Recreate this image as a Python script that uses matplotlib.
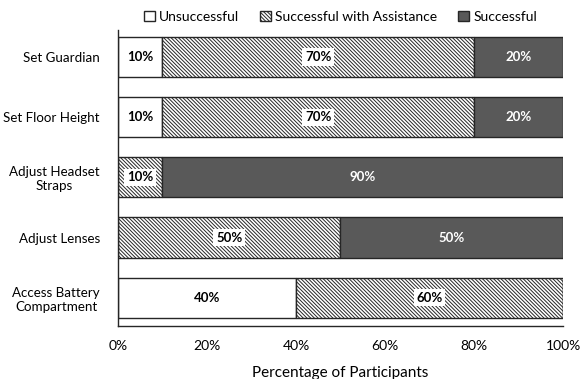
import numpy as np
import matplotlib
matplotlib.use("Agg")
import matplotlib.pyplot as plt
from matplotlib.ticker import FuncFormatter

plt.rcParams['font.family'] = ['Lato', 'DejaVu Sans']
plt.rcParams['hatch.color'] = '#9a9a9a'
plt.rcParams['hatch.linewidth'] = 0.7

tasks = ['Set Guardian', 'Set Floor Height', 'Adjust Headset\nStraps', 'Adjust Lenses',
         'Access Battery\nCompartment']
unsuccessful = [10, 10, 0, 0, 40]
assisted = [70, 70, 10, 50, 60]
successful = [20, 20, 90, 50, 0]

fig = plt.figure(figsize=(5.81, 3.79), dpi=100)
ax = fig.add_axes([0.203, 0.14, 0.766, 0.781])

y = np.arange(len(tasks))
h = 0.667
left = np.zeros(len(tasks))
series = [
    ('Unsuccessful', unsuccessful, dict(color='white', hatch=None), 'black'),
    ('Successful with Assistance', assisted, dict(color='white', hatch='\\' * 9), 'black'),
    ('Successful', successful, dict(color='#595959', hatch=None), 'white'),
]
for name, vals, style, tcol in series:
    vals = np.array(vals, dtype=float)
    ax.barh(y, vals, left=left, height=h, edgecolor='#262626', linewidth=1.0,
            label=name, **style)
    for yi, v, l in zip(y, vals, left):
        if v <= 0:
            continue
        bbox = None
        if style['hatch']:
            bbox = dict(boxstyle='square,pad=0.2', fc='white', ec='none')
        ax.text(l + v / 2, yi, '%d%%' % v, ha='center', va='center', fontsize=9.5,
                fontweight='bold', color=tcol, bbox=bbox)
    left += vals

ax.set_ylim(len(tasks) - 0.53, -0.45)
ax.set_xlim(0, 100)
ax.set_yticks(y)
ax.set_yticklabels(tasks, fontsize=9.6, multialignment='center')
ax.xaxis.set_major_formatter(FuncFormatter(lambda v, p: '%d%%' % v))
ax.set_xticks(np.arange(0, 101, 20))
ax.tick_params(axis='x', labelsize=10, length=0, pad=10)
ax.tick_params(axis='y', length=0, pad=13)
ax.set_xlabel('Percentage of Participants', fontsize=11, labelpad=10)
for s in ['top', 'right']:
    ax.spines[s].set_visible(False)
for s in ['left', 'bottom']:
    ax.spines[s].set_color('#262626')
    ax.spines[s].set_linewidth(1.0)

ax.legend(loc='lower center', bbox_to_anchor=(0.5, 1.0), ncol=3, frameon=False,
          fontsize=10, handlelength=0.8, handleheight=0.8, handletextpad=0.3,
          columnspacing=1.5, borderaxespad=0.1)

plt.savefig('out.png', dpi=100)
